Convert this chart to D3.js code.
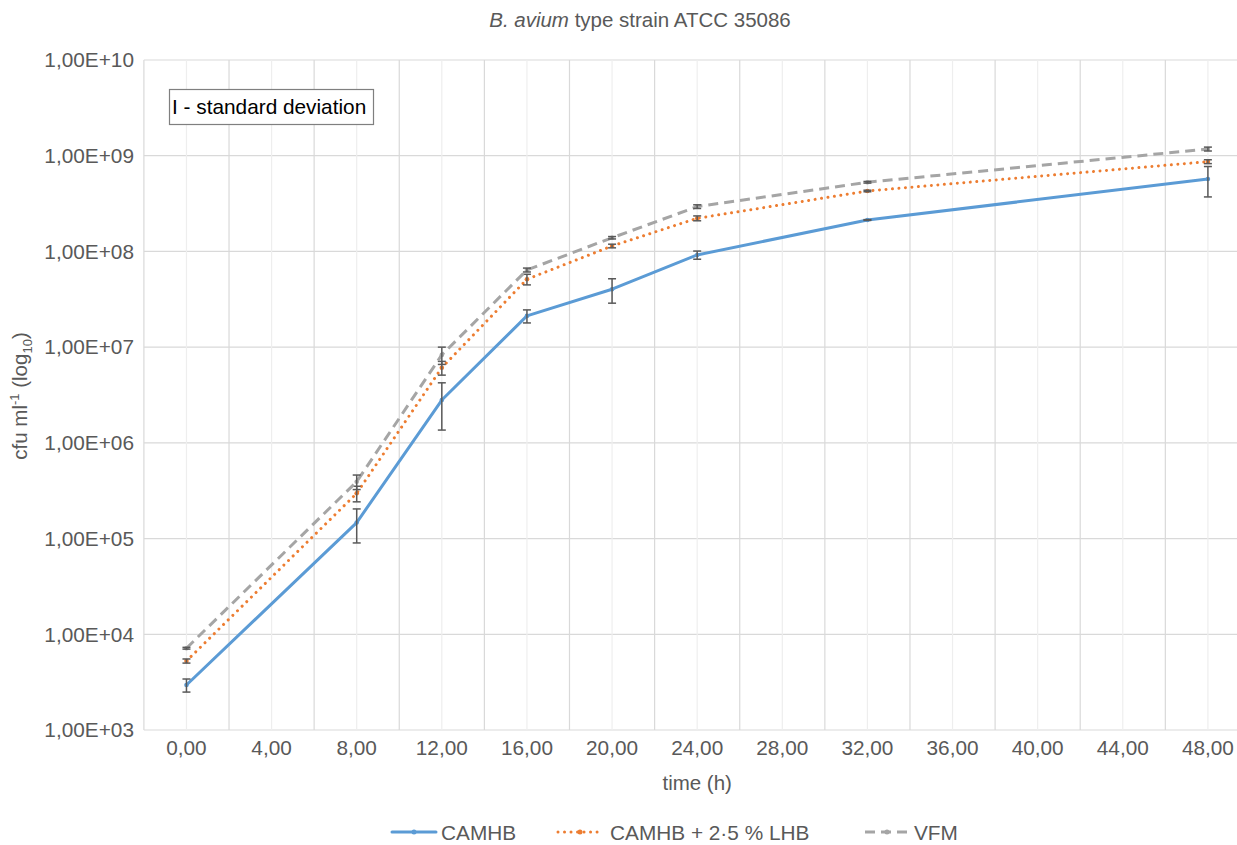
<!DOCTYPE html>
<html>
<head>
<meta charset="utf-8">
<script src="https://cdn.jsdelivr.net/npm/d3@7"></script>
<style>
  body { margin: 0; background: #fff; }
  svg { display: block; font-family: "Liberation Sans", Arial, Helvetica, sans-serif; }
</style>
</head>
<body>
<div id="chart"></div>
<script>
// growth curves, values (cfu/ml, sd linear)
const times = [0, 8, 12, 16, 20, 24, 32, 48];
const camhb = [2.95e3, 1.47e5, 2.8e6, 2.12e7, 4.03e7, 9.19e7, 2.13e8, 5.71e8];
const camhbSd = [460, 5.7e4, 1.44e6, 3.3e6, 1.15e7, 9e6, 2e6, 2e8];
const lhb = [5.26e3, 2.97e5, 6.1e6, 5.12e7, 1.14e8, 2.22e8, 4.28e8, 8.67e8];
const lhbSd = [260, 5.5e4, 1.0e6, 6.5e6, 5e6, 1.3e7, 8e6, 4e7];
const vfm = [7.15e3, 3.93e5, 8.3e6, 6.4e7, 1.39e8, 2.94e8, 5.28e8, 1.175e9];
const vfmSd = [150, 6.8e4, 1.7e6, 3e6, 4e6, 1.3e7, 1e7, 5.5e7];
const seriesNames = ["CAMHB", "CAMHB + 2\u00b75 % LHB", "VFM"];
const xTicks = [0, 4, 8, 12, 16, 20, 24, 28, 32, 36, 40, 44, 48];
const yTicks = [1e3, 1e4, 1e5, 1e6, 1e7, 1e8, 1e9, 1e10];

const W = 1237, H = 845;
const series = [
  { name: seriesNames[0], values: camhb, sd: camhbSd, color: "#5b9bd5", dash: null, cap: "round" },
  { name: seriesNames[1], values: lhb, sd: lhbSd, color: "#ed7d31", dash: "0.01 6.5", cap: "round" },
  { name: seriesNames[2], values: vfm, sd: vfmSd, color: "#a5a5a5", dash: "10 6", cap: "butt" }
];

const x = d3.scaleLinear().domain([-2, 50]).range([143.9, 143.9 + 52 * 21.28]);
const y = d3.scaleLog().domain([1e3, 1e10]).range([730, 60]);

const svg = d3.select("#chart").append("svg").attr("width", W).attr("height", H);

// grid
const grid = svg.append("g");
grid.selectAll("line.hgrid").data(yTicks).enter().append("line")
  .attr("x1", x(-2)).attr("x2", W)
  .attr("y1", d => y(d)).attr("y2", d => y(d))
  .attr("stroke", "#d9d9d9").attr("stroke-width", 1.2);
grid.selectAll("line.vminor").data(xTicks).enter().append("line")
  .attr("x1", d => x(d)).attr("x2", d => x(d))
  .attr("y1", y(1e10)).attr("y2", y(1e3))
  .attr("stroke", "#eeeeee").attr("stroke-width", 1.2);
grid.selectAll("line.vmajor").data(d3.range(-2, 50, 4)).enter().append("line")
  .attr("x1", d => x(d)).attr("x2", d => x(d))
  .attr("y1", y(1e10)).attr("y2", y(1e3))
  .attr("stroke", "#d9d9d9").attr("stroke-width", 1.2);

// axes labels
svg.append("g").selectAll("text").data(yTicks).enter().append("text")
  .attr("x", 134).attr("y", d => y(d)).attr("dy", "0.35em")
  .attr("text-anchor", "end").attr("font-size", 20.8).attr("fill", "#595959")
  .text(d => "1,00E+" + String(Math.round(Math.log10(d))).padStart(2, "0"));
svg.append("g").selectAll("text").data(xTicks).enter().append("text")
  .attr("x", d => x(d)).attr("y", 755)
  .attr("text-anchor", "middle").attr("font-size", 20.8).attr("fill", "#595959")
  .text(d => d3.format(".2f")(d).replace(".", ","));

svg.append("text").attr("x", x(24)).attr("y", 790).attr("text-anchor", "middle")
  .attr("font-size", 20.5).attr("fill", "#595959").text("time (h)");

const yt = svg.append("text").attr("transform", "translate(27,396) rotate(-90)")
  .attr("text-anchor", "middle").attr("font-size", 20.5).attr("fill", "#595959");
yt.append("tspan").text("cfu ml");
yt.append("tspan").attr("font-size", 13).attr("dy", -8).text("-1");
yt.append("tspan").attr("dy", 8).text(" (log");
yt.append("tspan").attr("font-size", 13).attr("dy", 5).text("10");
yt.append("tspan").attr("dy", -5).text(")");

const title = svg.append("text").attr("x", 640).attr("y", 27).attr("text-anchor", "middle")
  .attr("font-size", 20.5).attr("fill", "#595959");
title.append("tspan").attr("font-style", "italic").text("B. avium");
title.append("tspan").text(" type strain ATCC 35086");

// annotation box
svg.append("rect").attr("x", 169.5).attr("y", 89.5).attr("width", 204).attr("height", 35)
  .attr("fill", "#fff").attr("stroke", "#7f7f7f").attr("stroke-width", 1.2);
svg.append("text").attr("x", 172).attr("y", 114).attr("font-size", 20.8).attr("fill", "#000")
  .text("I - standard deviation");

// series
const line = d3.line().x(d => x(d[0])).y(d => y(d[1]));
series.forEach(s => {
  const pts = times.map((t, i) => [t, s.values[i], s.sd[i]]);
  const g = svg.append("g");
  g.append("path").datum(pts).attr("d", line)
    .attr("fill", "none").attr("stroke", s.color).attr("stroke-width", 3)
    .attr("stroke-linecap", s.cap).attr("stroke-linejoin", "round")
    .attr("stroke-dasharray", s.dash);
  g.selectAll("circle").data(pts).enter().append("circle")
    .attr("cx", d => x(d[0])).attr("cy", d => y(d[1])).attr("r", 2.3)
    .attr("fill", s.color);
  const eb = g.selectAll("g.err").data(pts).enter().append("g")
    .attr("stroke", "#595959").attr("stroke-width", 1.5);
  eb.append("line")
    .attr("x1", d => x(d[0])).attr("x2", d => x(d[0]))
    .attr("y1", d => y(d[1] + d[2])).attr("y2", d => y(Math.max(d[1] - d[2], 1)));
  eb.append("line")
    .attr("x1", d => x(d[0]) - 4).attr("x2", d => x(d[0]) + 4)
    .attr("y1", d => y(d[1] + d[2])).attr("y2", d => y(d[1] + d[2]));
  eb.append("line")
    .attr("x1", d => x(d[0]) - 4).attr("x2", d => x(d[0]) + 4)
    .attr("y1", d => y(d[1] - d[2])).attr("y2", d => y(d[1] - d[2]));
});

// legend
const legendX = [392, 558, 865];
const leg = svg.append("g").selectAll("g").data(series).enter().append("g")
  .attr("transform", (d, i) => `translate(${legendX[i]},832)`);
leg.append("line").attr("x1", 0).attr("x2", 44).attr("y1", 0).attr("y2", 0)
  .attr("stroke", d => d.color).attr("stroke-width", 3)
  .attr("stroke-linecap", d => d.cap).attr("stroke-dasharray", d => d.dash);
leg.append("circle").attr("cx", 22).attr("cy", 0).attr("r", 2.5).attr("fill", d => d.color);
leg.append("text").attr("x", (d, i) => i === 1 ? 52 : 49).attr("y", 0).attr("dy", "0.36em")
  .attr("font-size", 20.8).attr("fill", "#595959").text(d => d.name);
</script>
</body>
</html>
